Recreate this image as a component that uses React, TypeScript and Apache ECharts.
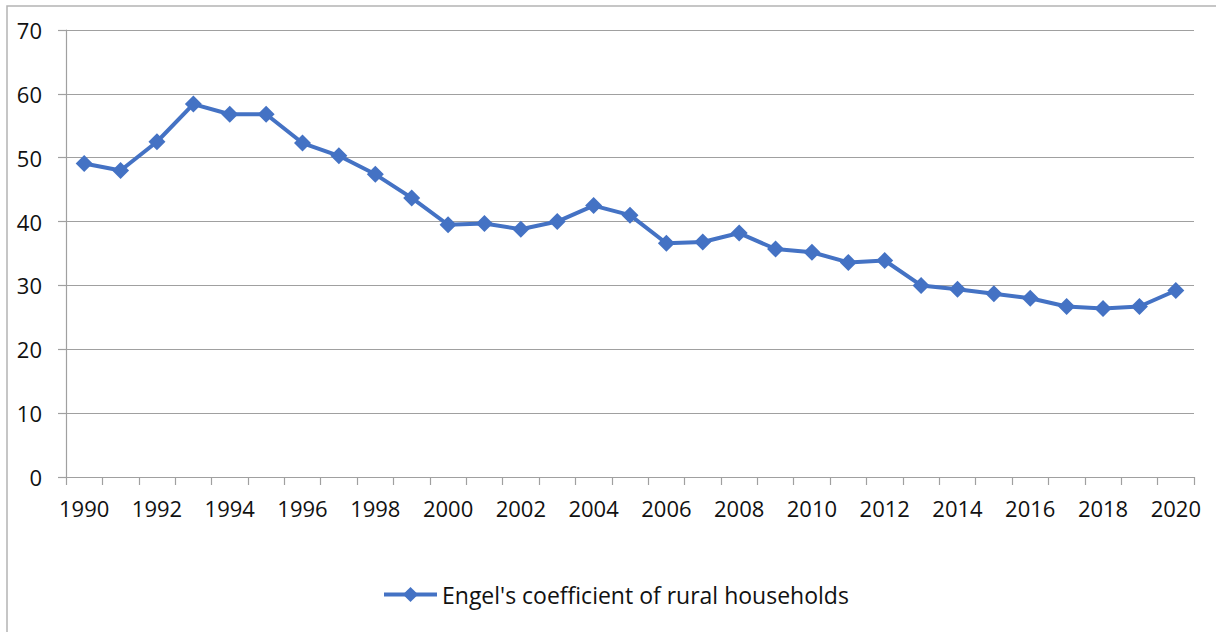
import React, { useEffect, useRef } from "react";
import * as echarts from "echarts";

const years: string[] = [];
for (let y = 1990; y <= 2020; y++) years.push(String(y));

const seriesName = "Engel's coefficient of rural households";
const engelRural = [
  49.1, 48.0, 52.5, 58.4, 56.8, 56.8, 52.3, 50.3, 47.4, 43.7,
  39.5, 39.7, 38.8, 40.0, 42.5, 41.0, 36.6, 36.8, 38.2, 35.7,
  35.2, 33.6, 33.9, 30.0, 29.4, 28.7, 28.0, 26.7, 26.4, 26.7,
  29.2,
];

const FONT = "'Open Sans', 'Liberation Sans', sans-serif";

export default function App() {
  const ref = useRef<HTMLDivElement>(null);
  useEffect(() => {
    if (!ref.current) return;
    const chart = echarts.init(ref.current, undefined, { renderer: "svg" });
    chart.setOption({
      animation: false,
      backgroundColor: "#ffffff",
      graphic: [
        {
          type: "rect",
          shape: { x: 7, y: 6, width: 1300, height: 700 },
          style: { fill: "none", stroke: "#b4b4b4", lineWidth: 1.5 },
          silent: true,
        },
      ],
      grid: { left: 66, right: 22, top: 30, bottom: 155 },
      legend: {
        left: 382,
        top: 583,
        padding: 0,
        data: [seriesName],
        itemWidth: 53,
        itemHeight: 19,
        itemGap: 5,
        lineStyle: { width: 4 },
        textStyle: { fontFamily: FONT, fontSize: 23, color: "#111111" },
      },
      xAxis: {
        type: "category",
        data: years,
        boundaryGap: true,
        axisLine: { lineStyle: { color: "#a0a0a0", width: 1.2 } },
        axisTick: { show: true, interval: 0, length: 8, lineStyle: { color: "#a0a0a0", width: 1.2 } },
        axisLabel: {
          interval: 1,
          margin: 20,
          fontFamily: FONT,
          fontSize: 22,
          color: "#111111",
        },
        splitLine: { show: false },
      },
      yAxis: {
        type: "value",
        min: 0,
        max: 70,
        interval: 10,
        axisLine: { show: true, lineStyle: { color: "#a0a0a0", width: 1.2 } },
        axisTick: { show: true, length: 8, lineStyle: { color: "#a0a0a0", width: 1.2 } },
        axisLabel: {
          margin: 24,
          fontFamily: FONT,
          fontSize: 22,
          color: "#111111",
        },
        splitLine: { show: true, lineStyle: { color: "#a0a0a0", width: 1.2 } },
      },
      series: [
        {
          name: seriesName,
          type: "line",
          data: engelRural,
          symbol: "diamond",
          symbolSize: 17,
          itemStyle: { color: "#4472C4" },
          lineStyle: { color: "#4472C4", width: 4 },
        },
      ],
    });
    return () => chart.dispose();
  }, []);
  return (
    <div
      ref={ref}
      style={{ position: "absolute", left: 0, top: 0, width: 1216, height: 632 }}
    />
  );
}
